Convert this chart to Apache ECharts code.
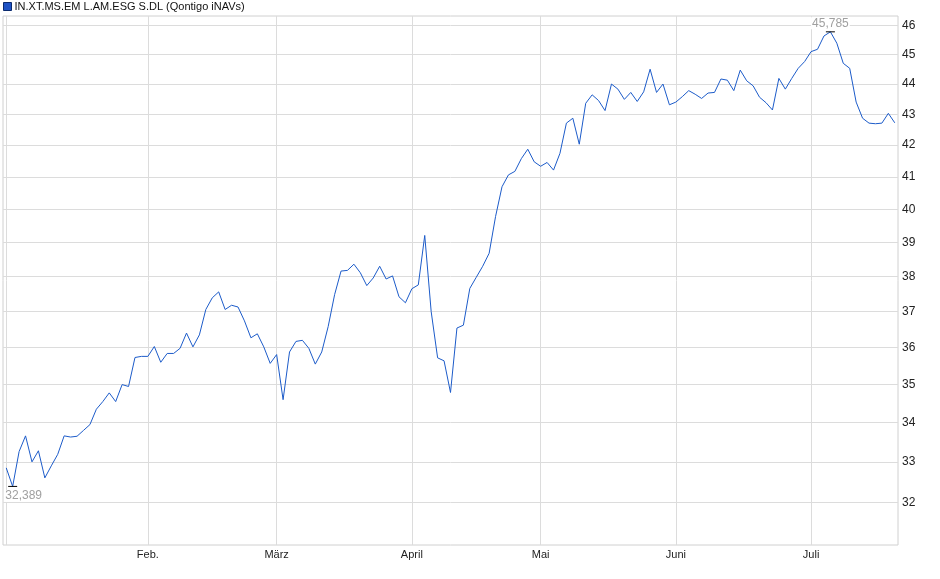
<!DOCTYPE html>
<html>
<head>
<meta charset="utf-8">
<title>IN.XT.MS.EM L.AM.ESG S.DL</title>
<script src="https://cdn.jsdelivr.net/npm/echarts@6/dist/echarts.min.js"></script>
<style>
    html, body { margin: 0; padding: 0; background: #fff; }
    #chart { width: 940px; height: 579px; }
</style>
</head>
<body>
<div id="chart"></div>
<script>
var seriesName = 'IN.XT.MS.EM L.AM.ESG S.DL (Qontigo iNAVs)';

// trading days (Xetra calendar), Jan 2 - Jul 18
var firstDay = '2025-01-02';
var lastDay = '2025-07-18';
var holidays = ['2025-04-18', '2025-04-21', '2025-05-01'];
var monthNames = ['Jan.', 'Feb.', 'März', 'April', 'Mai', 'Juni', 'Juli'];
var yTicks = [32, 33, 34, 35, 36, 37, 38, 39, 40, 41, 42, 43, 44, 45, 46];

// closing iNAV per trading day
var values = [
    32.85, 32.389, 33.26, 33.66, 33.00, 33.28, 32.60, 32.90, 33.19, 33.66,
    33.63, 33.65, 33.80, 33.95, 34.35, 34.55, 34.78, 34.55, 35.00, 34.95,
    35.73, 35.76, 35.76, 36.03, 35.60, 35.84, 35.84, 35.98, 36.40, 36.02,
    36.35, 37.06, 37.39, 37.56, 37.06, 37.18, 37.13, 36.74, 36.27, 36.38,
    36.02, 35.57, 35.81, 34.60, 35.88, 36.17, 36.20, 35.98, 35.55, 35.88,
    36.58, 37.48, 38.16, 38.18, 38.36, 38.11, 37.74, 37.96, 38.30, 37.93,
    38.02, 37.42, 37.25, 37.65, 37.76, 39.21, 37.00, 35.72, 35.64, 34.79,
    36.54, 36.62, 37.66, 37.98, 38.30, 38.68, 39.78, 40.69, 41.06, 41.17,
    41.57, 41.87, 41.47, 41.33, 41.45, 41.21, 41.74, 42.71, 42.87, 42.03,
    43.36, 43.64, 43.45, 43.12, 44.00, 43.83, 43.49, 43.72, 43.42, 43.74,
    44.50, 43.72, 44.00, 43.31, 43.40, 43.58, 43.78, 43.66, 43.52, 43.70,
    43.72, 44.17, 44.13, 43.78, 44.47, 44.11, 43.94, 43.56, 43.38, 43.14,
    44.19, 43.83, 44.19, 44.53, 44.76, 45.10, 45.18, 45.64, 45.785, 45.39,
    44.70, 44.53, 43.40, 42.87, 42.71, 42.69, 42.71, 43.03, 42.72
];

// build the list of trading dates
var dates = [];
var d = new Date(firstDay + 'T00:00:00Z');
var end = new Date(lastDay + 'T00:00:00Z');
while (d <= end) {
    var iso = d.toISOString().slice(0, 10);
    var wd = d.getUTCDay();
    if (wd !== 0 && wd !== 6 && holidays.indexOf(iso) < 0) {
        dates.push(iso);
    }
    d.setUTCDate(d.getUTCDate() + 1);
}

// first trading day of each month -> grid lines
var monthStarts = [];
for (var i = 0; i < dates.length; i++) {
    if (i === 0 || dates[i].slice(5, 7) !== dates[i - 1].slice(5, 7)) {
        monthStarts.push(i);
    }
}

var seriesData = values.map(function (v, i) {
    return [i, v];
});

function fmtDe(v) {
    return v.toFixed(3).replace('.', ',');
}

var myChart = echarts.init(document.getElementById('chart'));

var option = {
    animation: false,
    textStyle: { fontFamily: 'Liberation Sans, Arial, sans-serif' },
    legend: {
        left: 3,
        top: 1,
        padding: 0,
        itemWidth: 8,
        itemHeight: 8,
        itemGap: 5,
        icon: 'rect',
        textStyle: { fontSize: 11, color: '#111', padding: [0, 0, 0, -2] },
        itemStyle: { color: '#1e52c4', borderColor: '#0b2a6e', borderWidth: 1 },
        data: [seriesName]
    },
    grid: {
        left: 3,
        right: 42,
        top: 16,
        bottom: 34,
        show: true,
        borderColor: '#d0d0d0',
        borderWidth: 1
    },
    xAxis: {
        type: 'value',
        min: -0.5,
        max: dates.length - 0.5,
        axisLine: { show: false },
        axisTick: { show: false, customValues: monthStarts },
        axisLabel: {
            customValues: monthStarts.slice(1),
            margin: 4,
            fontSize: 11,
            color: '#222',
            formatter: function (v) {
                return monthNames[parseInt(dates[v].slice(5, 7), 10) - 1];
            }
        },
        splitLine: { show: true, lineStyle: { color: '#dcdcdc', width: 1 } }
    },
    yAxis: {
        type: 'log',
        logBase: 10,
        position: 'right',
        min: 30.976,
        max: 46.34,
        axisLine: { show: false },
        axisTick: { show: false, customValues: yTicks },
        axisLabel: {
            customValues: yTicks,
            margin: 4,
            fontSize: 12,
            color: '#222',
            formatter: function (v) {
                return String(Math.round(v));
            }
        },
        splitLine: { show: true, lineStyle: { color: '#dcdcdc', width: 1 } }
    },
    series: [
        {
            name: seriesName,
            type: 'line',
            data: seriesData,
            symbol: 'none',
            lineStyle: { color: '#1c5bc9', width: 1 },
            itemStyle: { color: '#1e52c4' },
            markPoint: {
                symbol: 'rect',
                symbolSize: [9, 1],
                itemStyle: { color: '#000' },
                data: [
                    {
                        type: 'min',
                        label: {
                            position: 'bottom',
                            distance: 3,
                            offset: [11, 0]
                        }
                    },
                    {
                        type: 'max',
                        label: {
                            position: 'top',
                            distance: 2
                        }
                    }
                ],
                label: {
                    color: '#a0a0a0',
                    fontSize: 12,
                    backgroundColor: '#fff',
                    padding: [0, 1],
                    formatter: function (p) {
                        return fmtDe(p.value);
                    }
                }
            }
        }
    ]
};

myChart.setOption(option);
</script>
</body>
</html>
